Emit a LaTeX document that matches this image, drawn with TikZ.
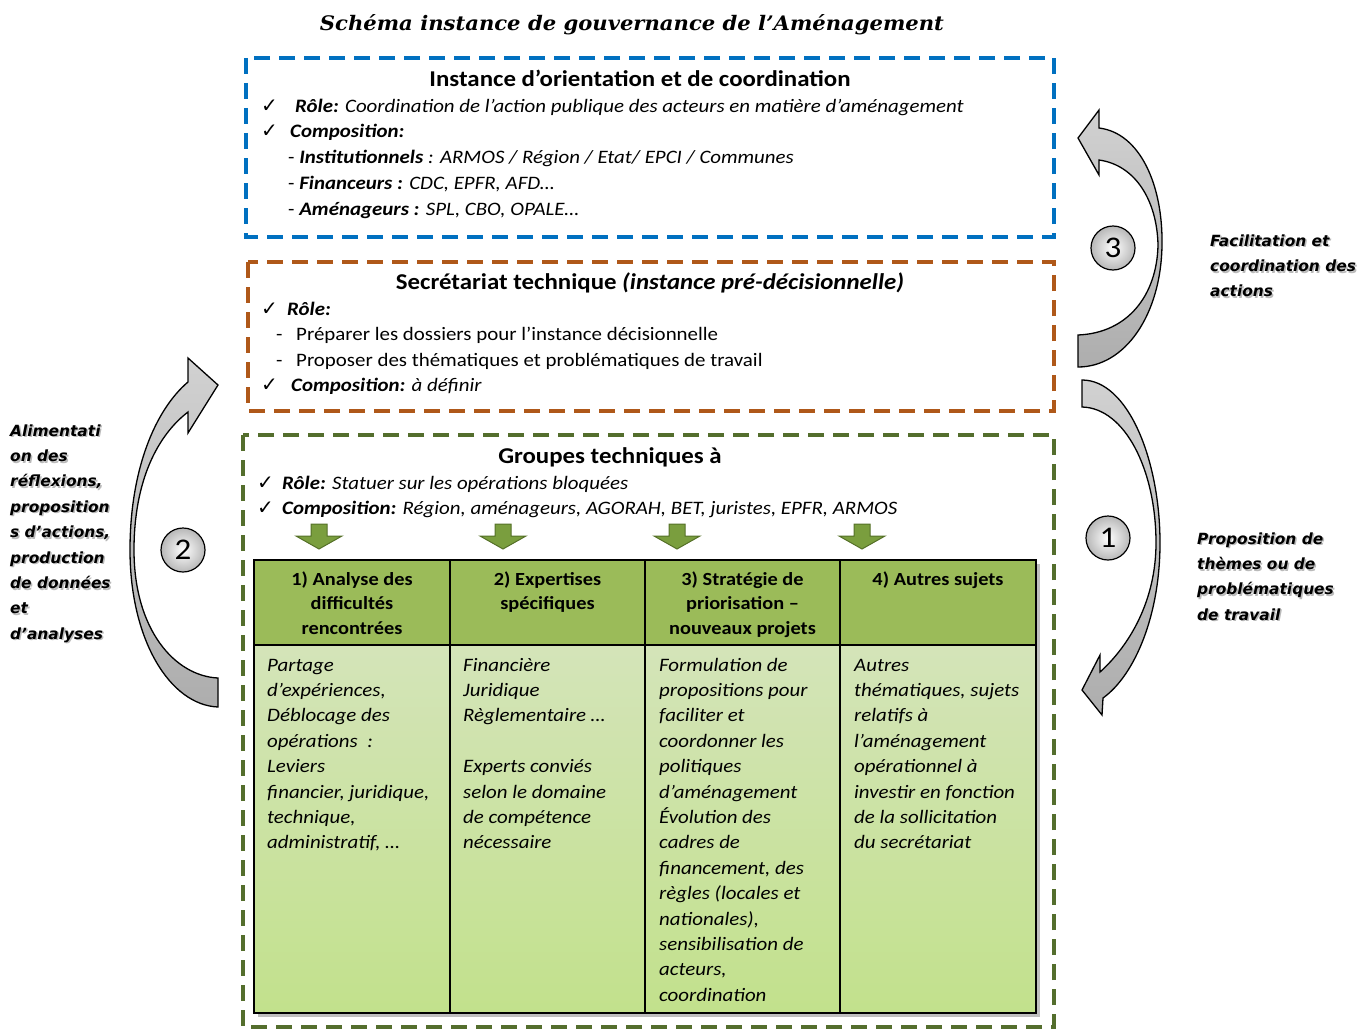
\documentclass[tikz,border=0pt]{standalone}
\usepackage{fontspec}
\usepackage{graphicx}
\setmainfont{Carlito}[FakeStretch=1.1]
\newfontfamily\chkfont{DejaVu Sans}
\newfontfamily\sidefont{DejaVu Sans}
\newfontfamily\ttlfont{DejaVu Serif}
\definecolor{dblue}{RGB}{0,112,192}
\definecolor{dbrown}{RGB}{175,88,25}
\definecolor{dgreen}{RGB}{84,110,45}
\definecolor{hdr}{RGB}{155,187,89}
\definecolor{bodytop}{RGB}{212,228,185}
\definecolor{bodybot}{RGB}{194,225,140}
\definecolor{arrg}{RGB}{122,158,62}
\definecolor{arrgd}{RGB}{85,112,40}
\newcommand\ck{{\chkfont\fontsize{20}{20}\selectfont ✓}}
\tikzset{
  frame/.style={line width=4pt, dash pattern=on 16pt off 9pt},
  txt/.style={anchor=base west, inner sep=0pt, font=\fontsize{19}{25.4}\selectfont},
  ttl/.style={anchor=base, inner sep=0pt, font=\fontsize{22.6}{25}\selectfont\bfseries},
  col/.style={anchor=north west, inner sep=0pt, align=left, font=\fontsize{19}{25.4}\selectfont\itshape},
  hd/.style={anchor=north, inner sep=0pt, align=center, font=\fontsize{18.5}{24.5}\selectfont\bfseries},
  side/.style={anchor=north west, inner sep=0pt, align=left, font=\sidefont\bfseries\itshape\fontsize{15.4}{25.4}\selectfont},
  sideshadow/.style={side, text=black!45, opacity=0.6},
  circ/.style={circle, draw=black, line width=1.2pt, minimum size=44pt, inner sep=0pt, inner color=white, outer color=black!28, font=\fontsize{30}{30}\selectfont},
  garrow/.style={fill=arrg, draw=arrgd, line width=1pt},
  carrow/.style={draw=black, line width=1.3pt, top color=black!18, bottom color=black!32},
}
\begin{document}
\begin{tikzpicture}[x=1pt, y=-1pt]
\useasboundingbox (0,0) rectangle (1370,1030);
% title
\node[anchor=base, inner sep=0pt] (title) at (632,31) {\resizebox{624pt}{\height}{\ttlfont\bfseries\itshape\fontsize{20}{24}\selectfont Schéma instance de gouvernance de l’Aménagement}};

% ---------- blue frame
\draw[frame, dblue] (246,58) rectangle (1054,237);
\node[ttl] (t1) at (640,87) {Instance d’orientation et de coordination};
\node[txt] (c1a) at (261,113) {\ck};
\node[txt] (r1) at (295,113) {\textbf{\textit{Rôle:}} \textit{Coordination de l’action publique des acteurs en matière d’aménagement}};
\node[txt] (c1b) at (261,138) {\ck};
\node[txt] (p1) at (290,138) {\textbf{\textit{Composition:}}};
\node[txt] (i1) at (288,164) {- \textbf{\textit{Institutionnels}} \textit{: ARMOS / Région / Etat/ EPCI / Communes}};
\node[txt] (f1) at (288,189) {- \textbf{\textit{Financeurs :}} \textit{CDC, EPFR, AFD…}};
\node[txt] (a1) at (288,215) {- \textbf{\textit{Aménageurs :}} \textit{SPL, CBO, OPALE…}};

% ---------- brown frame
\draw[frame, dbrown] (248,262) rectangle (1054,411);
\node[ttl] (t2) at (650,289) {Secrétariat technique \textit{(instance pré-décisionnelle)}};
\node[txt] (c2a) at (261,315) {\ck};
\node[txt] (r2) at (287,315) {\textbf{\textit{Rôle:}}};
\node[txt] (d2a) at (276,340) {-};
\node[txt] (l2a) at (296,340) {Préparer les dossiers pour l’instance décisionnelle};
\node[txt] (d2b) at (276,366) {-};
\node[txt] (l2b) at (296,366) {Proposer des thématiques et problématiques de travail};
\node[txt] (c2b) at (261,391) {\ck};
\node[txt] (p2) at (291,391) {\textbf{\textit{Composition:}} \textit{à définir}};

% ---------- green frame
\draw[frame, dgreen] (243,435) rectangle (1054,1027);
\node[ttl] (t3) at (610,463) {Groupes techniques à};
\node[txt] (c3a) at (257,489) {\ck};
\node[txt] (r3) at (282,489) {\textbf{\textit{Rôle:}} \textit{Statuer sur les opérations bloquées}};
\node[txt] (c3b) at (257,514) {\ck};
\node[txt] (p3) at (282,514) {\textbf{\textit{Composition:}} \textit{Région, aménageurs, AGORAH, BET, juristes, EPFR, ARMOS}};

% green down arrows
\foreach \cx in {319,503,677,862}{
  \draw[garrow] ({\cx-8},524) -- ({\cx+8},524) -- ({\cx+8},536) -- ({\cx+23},536) -- (\cx,549) -- ({\cx-23},536) -- ({\cx-8},536) -- cycle;
}

% table
\fill[black, opacity=0.25] (258,564) rectangle (1040,1017);
\fill[hdr] (254,560) rectangle (1036,645);
\shade[top color=bodytop, bottom color=bodybot] (254,645) rectangle (1036,1013);
\draw[line width=1.8pt] (254,560) rectangle (1036,1013);
\draw[line width=1.8pt] (254,645) -- (1036,645);
\foreach \vx in {450,645,840}{\draw[line width=1.8pt] (\vx,560) -- (\vx,1013);}

\node[hd] (h1) at (352,567.9) {\strut 1) Analyse des\\difficultés\\rencontrées};
\node[hd] (h2) at (547.5,567.9) {\strut 2) Expertises\\spécifiques};
\node[hd] (h3) at (742.5,567.9) {\strut 3) Stratégie de\\priorisation –\\nouveaux projets};
\node[hd] (h4) at (938,567.9) {\strut 4) Autres sujets};

\node[col] (b1) at (267,653.2) {\strut Partage\\d’expériences,\\Déblocage des\\opérations\ \ :\\Leviers\\financier, juridique,\\technique,\\administratif, …};
\node[col] (b2) at (463,653.2) {\strut Financière\\Juridique\\Règlementaire …\\\strut\\Experts conviés\\selon le domaine\\de compétence\\nécessaire};
\node[col] (b3) at (659,653.2) {\strut Formulation de\\propositions pour\\faciliter et\\coordonner les\\politiques\\d’aménagement\\Évolution des\\cadres de\\financement, des\\règles (locales et\\nationales),\\sensibilisation de\\acteurs,\\coordination};
\node[col] (b4) at (854,653.2) {\strut Autres\\thématiques, sujets\\relatifs à\\l’aménagement\\opérationnel à\\investir en fonction\\de la sollicitation\\du secrétariat};

% ---------- curved arrows
% arrow 3 (right, upper)
\draw[carrow] (1078,335) .. controls (1128,333) and (1157,295) .. (1158,245)
  .. controls (1157,200) and (1135,165) .. (1099,160)
  -- (1099,175) -- (1078,138) -- (1099,110) -- (1099,128)
  .. controls (1140,133) and (1163,185) .. (1162,245)
  .. controls (1161,315) and (1125,367) .. (1078,367) -- cycle;
% arrow 1 (right, lower)
\draw[carrow] (1082,380) .. controls (1128,380) and (1160,460) .. (1160,543)
  .. controls (1160,615) and (1135,675) .. (1103,698)
  -- (1102,715) -- (1082,690) -- (1100,655) -- (1100,672)
  .. controls (1130,645) and (1156,600) .. (1156,543)
  .. controls (1156,470) and (1125,408) .. (1082,407) -- cycle;
% arrow 2 (left)
\draw[carrow] (188,382) .. controls (155,410) and (130,470) .. (130,550)
  .. controls (130,640) and (170,705) .. (218,707)
  -- (218,678) .. controls (175,676) and (134,630) .. (134,550)
  .. controls (134,480) and (158,435) .. (188,412)
  -- (188,433) -- (218,385) -- (188,358) -- cycle;

\node[circ] (n3) at (1113,248) {3};
\node[circ] (n1) at (1108,538) {1};
\node[circ] (n2) at (183,550) {2};

% side labels
\node[sideshadow] (s3s) at (1211.5,229.7) {\strut Facilitation et\\coordination des\\actions};
\node[side] (s3) at (1210,228.2) {\strut Facilitation et\\coordination des\\actions};
\node[sideshadow] (s1s) at (1198.5,527.7) {\strut Proposition de\\thèmes ou de\\problématiques\\de travail};
\node[side] (s1) at (1197,526.2) {\strut Proposition de\\thèmes ou de\\problématiques\\de travail};
\node[sideshadow] (s2s) at (11.5,419.7) {\strut Alimentati\\on des\\réflexions,\\proposition\\s d’actions,\\production\\de données\\et\\d’analyses};
\node[side] (s2) at (10,418.2) {\strut Alimentati\\on des\\réflexions,\\proposition\\s d’actions,\\production\\de données\\et\\d’analyses};
\end{tikzpicture}
\end{document}
